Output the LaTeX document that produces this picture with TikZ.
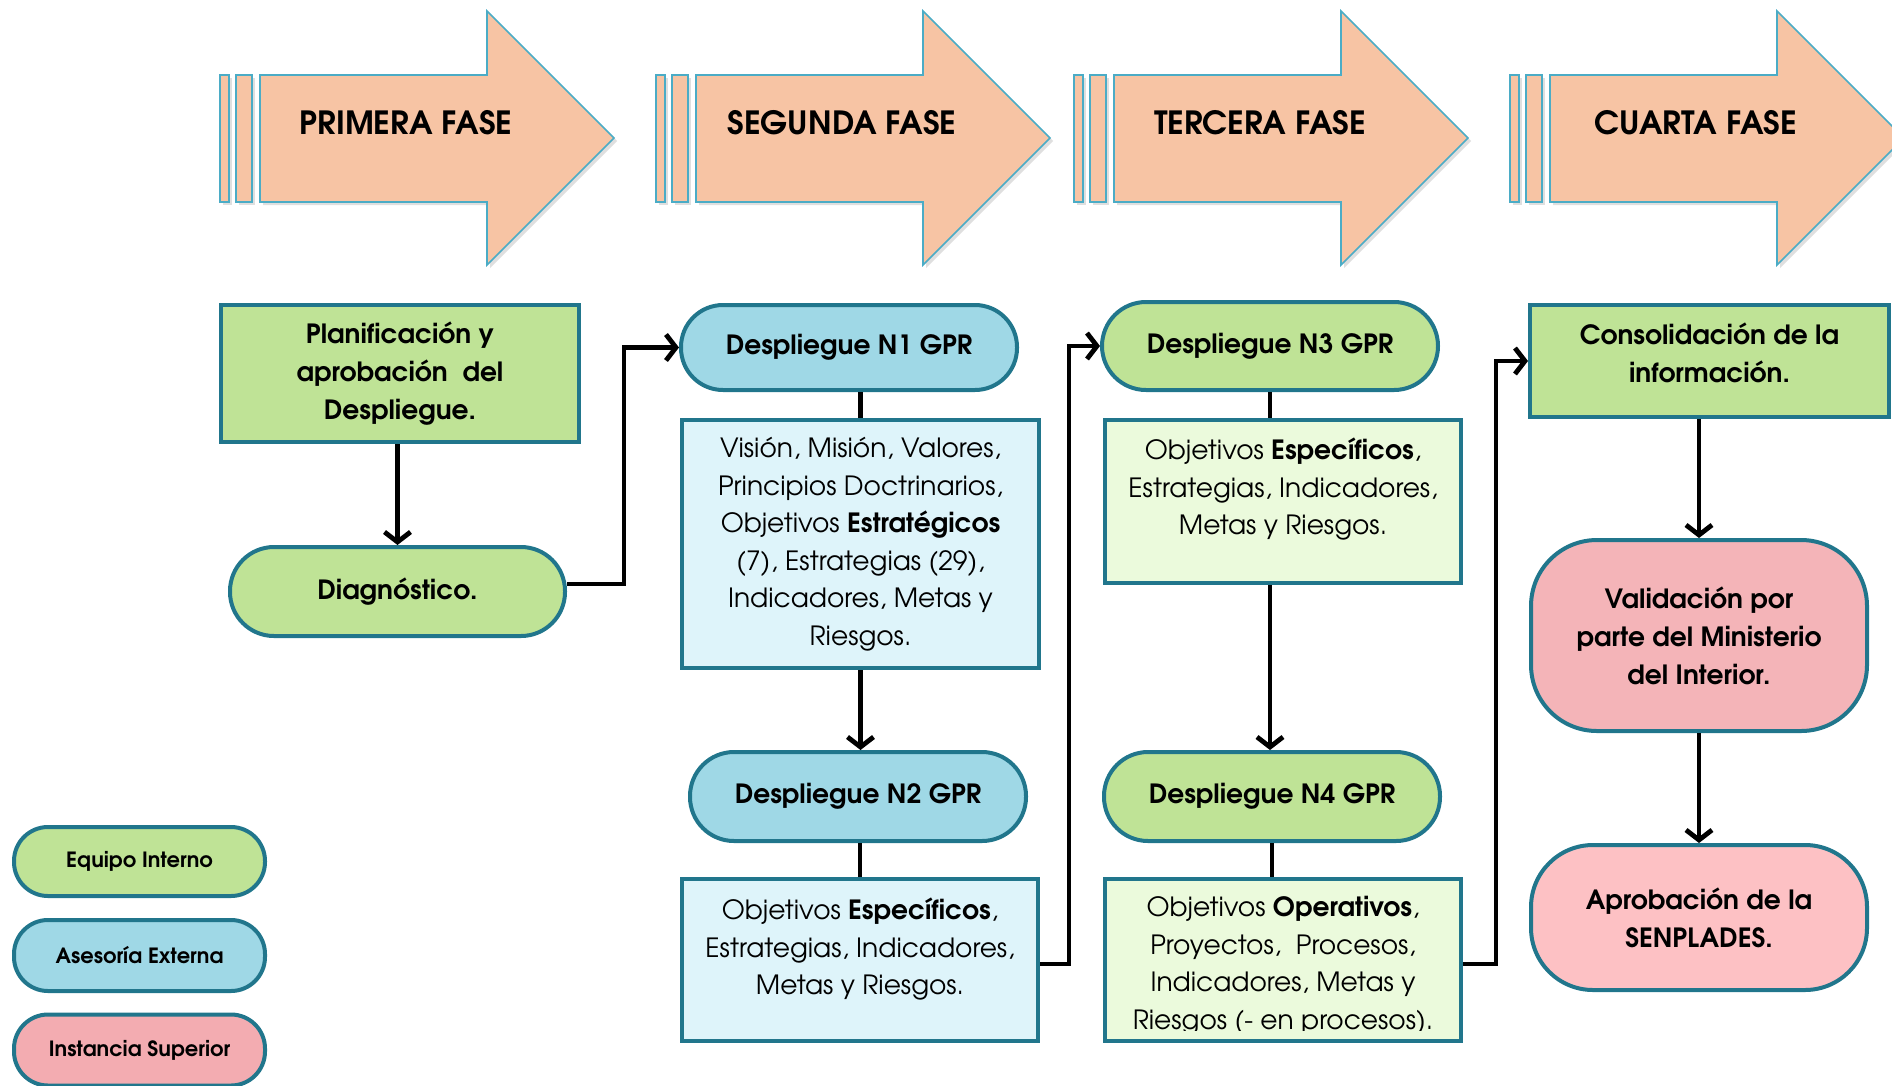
\documentclass[tikz,border=0pt]{standalone}
\usepackage{fontspec}
\setmainfont{TeX Gyre Adventor}
\usetikzlibrary{arrows.meta}
\definecolor{grn}{RGB}{191,227,150}
\definecolor{blu}{RGB}{159,216,230}
\definecolor{ltblu}{RGB}{222,244,250}
\definecolor{ltgrn}{RGB}{235,250,220}
\definecolor{pnk}{RGB}{244,180,184}
\definecolor{pnkb}{RGB}{253,193,196}
\definecolor{pnkl}{RGB}{243,172,177}
\definecolor{bord}{RGB}{33,118,140}
\definecolor{phfill}{RGB}{247,196,164}
\definecolor{phline}{RGB}{75,172,198}
\newcommand{\tbox}[4]{\parbox[c][#1pt][c]{#2pt}{\centering #4\par\vspace{#3pt}}}
\newcommand{\phasearrow}[3]{%
  \fill[black!25,opacity=0.5] (#1+3,78) rectangle (#1+12,205);
  \fill[black!25,opacity=0.5] (#1+19,78) rectangle (#1+35,205);
  \fill[black!25,opacity=0.5] (#1+43,78) -- (#1+270,78) -- (#1+270,14) -- (#1+397,141) -- (#1+270,268) -- (#1+270,205) -- (#1+43,205) -- cycle;
  \draw[phase] (#1,75) rectangle (#1+9,202);
  \draw[phase] (#1+16,75) rectangle (#1+32,202);
  \draw[phase] (#1+40,75) -- (#1+267,75) -- (#1+267,11) -- (#1+394,138) -- (#1+267,265) -- (#1+267,202) -- (#1+40,202) -- cycle;
  \node[phasetext] (#2) at (#1+186,123) {#3};}
\begin{document}
\begin{tikzpicture}[x=1pt,y=-1pt,
  phase/.style={fill=phfill,draw=phline,line width=1.6pt,line join=miter},
  phasetext/.style={font=\fontsize{32}{36}\selectfont\bfseries},
  box/.style={draw=bord,line width=4pt,rectangle,inner sep=0pt,align=center},
  pill/.style={box,rounded corners=42pt},
  hdr/.style={font=\fontsize{26.5}{38}\selectfont\bfseries},
  body/.style={font=\fontsize{26.5}{37.5}\selectfont},
  leg/.style={pill,rounded corners=34pt,minimum width=251pt,font=\fontsize{21}{24}\selectfont\bfseries},
  conn/.style={line width=4.8pt,black},
  arr/.style={conn,-{Straight Barb[length=10pt,width=26pt]}}]
\useasboundingbox (0,0) rectangle (1892,1085);

\phasearrow{220}{ph1}{PRIMERA FASE}
\phasearrow{656}{ph2}{SEGUNDA FASE}
\phasearrow{1074}{ph3}{TERCERA FASE}
\phasearrow{1510}{ph4}{CUARTA FASE}

% first phase
\node[box,hdr,fill=grn,minimum width=358pt,minimum height=137pt] (plan) at (400,373.5)
  {Planificación y\\aprobación\ \ del\\Despliegue.};
\node[pill,hdr,fill=grn,rounded corners=44pt,minimum width=335pt,minimum height=89pt] (diag) at (397.5,591.5) {Diagnóstico.};

% second phase
\node[pill,hdr,fill=blu,minimum width=336pt,minimum height=85pt] (n1) at (849,347.5) {Despliegue N1 GPR};
\node[box,body,fill=ltblu,minimum width=357pt,minimum height=248pt] (b1) at (860.5,544)
  {Visión, Misión, Valores,\\Principios Doctrinarios,\\Objetivos \textbf{Estratégicos}\\(7), Estrategias (29),\\Indicadores, Metas y\\Riesgos.};
\node[pill,hdr,fill=blu,rounded corners=44pt,minimum width=336pt,minimum height=89pt] (n2) at (858,796.5) {Despliegue N2 GPR};
\node[box,body,fill=ltblu,minimum width=356pt,minimum height=162pt] (b2) at (860,960)
  {\tbox{162}{356}{21}{Objetivos \textbf{Específicos},\\Estrategias, Indicadores,\\Metas y Riesgos.}};

% third phase
\node[pill,hdr,fill=grn,rounded corners=44pt,minimum width=336pt,minimum height=88pt] (n3) at (1270,346) {Despliegue N3 GPR};
\node[box,body,fill=ltgrn,minimum width=356pt,minimum height=163pt] (b3) at (1283,501.5)
  {\tbox{163}{356}{24}{Objetivos \textbf{Específicos},\\Estrategias, Indicadores,\\Metas y Riesgos.}};
\node[pill,hdr,fill=grn,rounded corners=44pt,minimum width=336pt,minimum height=89pt] (n4) at (1272,796.5) {Despliegue N4 GPR};
\node[box,fill=ltgrn,minimum width=356pt,minimum height=162pt] (b4) at (1283,960) {};
\begin{scope}
  \clip (b4.north west) rectangle ([yshift=13pt]b4.south east);
  \node[body,align=center,inner sep=0pt] (b4t) at (1283,966)
    {Objetivos \textbf{Operativos},\\Proyectos,\ \ Procesos,\\Indicadores, Metas y\\Riesgos (- en procesos).};
\end{scope}

% fourth phase
\node[box,hdr,fill=grn,minimum width=359pt,minimum height=112pt] (cons) at (1709.5,361)
  {\tbox{112}{359}{17}{Consolidación de la\\información.}};
\node[box,hdr,fill=pnk,rounded corners=66pt,minimum width=336pt,minimum height=191pt] (val) at (1699,635.5)
  {Validación por\\parte del Ministerio\\del Interior.};
\node[box,hdr,fill=pnkb,rounded corners=62pt,minimum width=336pt,minimum height=145pt] (apr) at (1699,917.5)
  {Aprobación de la\\SENPLADES.};

% legend
\node[leg,fill=grn,minimum height=69pt] (lg1) at (139.5,861.5) {Equipo Interno};
\node[leg,fill=blu,minimum height=71pt] (lg2) at (139.5,955.5) {Asesoría Externa};
\node[leg,fill=pnkl,minimum height=71pt] (lg3) at (139.5,1050) {Instancia Superior};

% junction coordinates
\coordinate (j1) at (624,0);
\coordinate (j2) at (1069,0);
\coordinate (j3) at (1496,0);
\coordinate (s1) at ([yshift=7.5pt]diag.east);
\coordinate (s2) at ([yshift=-4pt]b2.east);
\coordinate (s3) at ([yshift=-4pt]b4.east);

% connectors
\draw[arr] (plan.south -| diag.north) -- (diag.north);
\draw[arr] (s1) -- (s1 -| j1) -- (j1 |- n1.west) -- (n1.west);
\draw[conn] (b1.north) -- (b1.north |- n1.south);
\draw[arr] (b1.south) -- (b1.south |- n2.north);
\draw[conn] (b2.north) -- (b2.north |- n2.south);
\draw[arr] (s2) -- (s2 -| j2) -- (j2 |- n3.west) -- (n3.west);
\draw[conn] (n3.south) -- (n3.south |- b3.north);
\draw[arr] (n3.south |- b3.south) -- (n3.south |- n4.north);
\draw[conn] (n4.south) -- (n4.south |- b4.north);
\draw[arr] (s3) -- (s3 -| j3) -- (j3 |- cons.west) -- (cons.west);
\draw[arr] (cons.south -| val.north) -- (val.north);
\draw[arr] (val.south) -- (apr.north);
\end{tikzpicture}
\end{document}
